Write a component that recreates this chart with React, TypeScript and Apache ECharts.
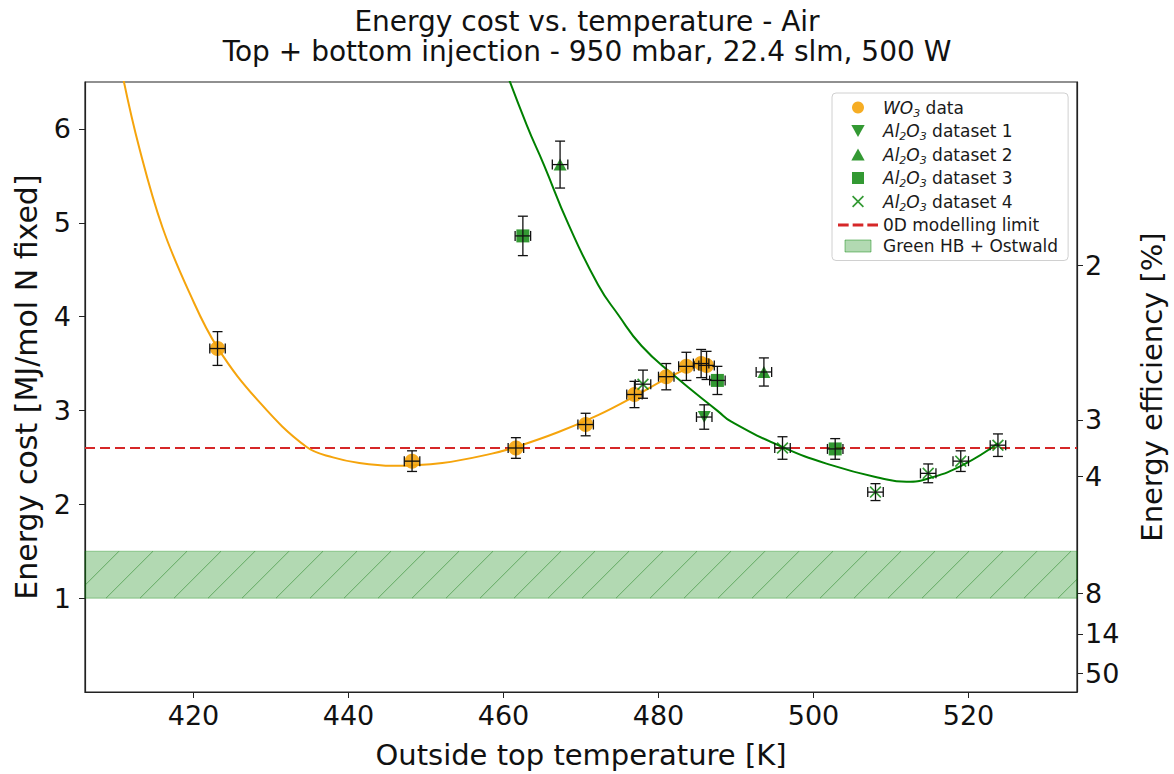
import React, { useEffect, useRef } from 'react';
import * as echarts from 'echarts';

const FONT = 'DejaVu Sans';

// WO3 data
const wo3X = [423.1, 448.2, 461.6, 470.6, 476.9, 481.0, 483.6, 485.5, 486.2];
const wo3Y = [3.66, 2.46, 2.60, 2.85, 3.17, 3.36, 3.47, 3.50, 3.48];
const wo3Xerr = [1.0, 1.0, 1.0, 1.0, 1.0, 1.0, 1.0, 1.0, 1.0];
const wo3Yerr = [0.18, 0.11, 0.11, 0.12, 0.14, 0.14, 0.15, 0.15, 0.15];

// Al2O3 datasets
const al1X = [485.9];
const al1Y = [2.93];
const al1Yerr = [0.13];

const al2X = [467.3, 493.6];
const al2Y = [5.62, 3.41];
const al2Yerr = [0.25, 0.15];

const al3X = [462.5, 487.6, 502.8];
const al3Y = [4.86, 3.32, 2.59];
const al3Yerr = [0.21, 0.15, 0.11];

const al4X = [478.0, 496.0, 508.0, 514.8, 519.0, 523.8];
const al4Y = [3.28, 2.60, 2.13, 2.33, 2.46, 2.63];
const al4Yerr = [0.15, 0.12, 0.09, 0.10, 0.11, 0.12];

const alXerr = 1.0;

// fitted curves
const wo3FitX = [409.5, 410.9, 413.0, 416.0, 419.5, 423.1, 428.6, 434.6, 438.0, 441.4, 445.7, 452.1, 458.5, 461.6, 467.1, 472.2, 476.9, 481.0, 485.1, 486.5];
const wo3FitY = [7.2, 6.55, 5.8, 4.95, 4.25, 3.67, 3.08, 2.61, 2.5, 2.44, 2.41, 2.44, 2.54, 2.61, 2.77, 2.95, 3.15, 3.34, 3.5, 3.55];

const alFitX = [459.5, 463.0, 465.2, 468.4, 472.2, 474.8, 477.8, 481.9, 487.7, 489.4, 496.0, 502.2, 508.6, 512.0, 515.0, 519.3, 523.8];
const alFitY = [6.8, 6.04, 5.62, 4.98, 4.34, 4.02, 3.69, 3.38, 2.99, 2.88, 2.61, 2.42, 2.28, 2.24, 2.28, 2.42, 2.65];

// reference levels
const modellingLimit = 2.6;
const greenBand = [1.0, 1.5];

// axes
const X_MIN = 406;
const X_MAX = 534;
const Y_MIN = 0;
const Y_MAX = 6.5;
const xTicks = [420, 440, 460, 480, 500, 520];
const yTicks = [1, 2, 3, 4, 5, 6];
// secondary axis: efficiency tick labels and the energy cost where each sits
const effTicks = [2, 3, 4, 8, 14, 50];
const effTickCost = [4.55, 2.9, 2.3, 1.05, 0.62, 0.2];

const ORANGE = '#F5A40C';
const GREEN = '#008000';
const RED = '#D62728';

const X_PATH = 'path://M1,0L5,4L9,0L10,1L6,5L10,9L9,10L5,6L1,10L0,9L4,5L0,1Z';
const DOWN_TRI = 'path://M0,0L10,0L5,9Z';
const UP_TRI = 'path://M5,0L10,9L0,9Z';
const SQUARE = 'path://M0,0L10,0L10,10L0,10Z';
const DASH_ICON = 'path://M0,0h8v2.4h-8zM11,0h8v2.4h-8zM22,0h8v2.4h-8z';
const BAND_ICON = 'path://M0,0h26v12h-26z';

const zip = (xs: number[], ys: number[]) => xs.map((x, i) => [x, ys[i]]);

export default function App() {
  const ref = useRef<HTMLDivElement>(null);

  useEffect(() => {
    const chart = echarts.init(ref.current!, null, { renderer: 'svg' });

    const errData: number[][] = [];
    wo3X.forEach((x, i) => errData.push([x, wo3Y[i], wo3Xerr[i], wo3Yerr[i]]));
    al1X.forEach((x, i) => errData.push([x, al1Y[i], alXerr, al1Yerr[i]]));
    al2X.forEach((x, i) => errData.push([x, al2Y[i], alXerr, al2Yerr[i]]));
    al3X.forEach((x, i) => errData.push([x, al3Y[i], alXerr, al3Yerr[i]]));
    al4X.forEach((x, i) => errData.push([x, al4Y[i], alXerr, al4Yerr[i]]));

    const rich = {
      n: { fontFamily: FONT, fontSize: 17, color: '#1a1a1a', lineHeight: 22 },
      i: { fontFamily: FONT, fontSize: 17, fontStyle: 'italic', color: '#1a1a1a', lineHeight: 22 },
      s: { fontFamily: FONT, fontSize: 11, fontStyle: 'italic', color: '#1a1a1a', lineHeight: 13, verticalAlign: 'bottom' },
    };

    const legendFormat = (name: string) => {
      if (name === 'WO3 data') return '{i|WO}{s|3}{n| data}';
      const m = name.match(/^Al2O3 (.*)$/);
      if (m) return '{i|Al}{s|2}{i|O}{s|3}{n| ' + m[1] + '}';
      return '{n|' + name + '}';
    };

    const option: any = {
      animation: false,
      backgroundColor: '#fff',
      title: {
        text: 'Energy cost vs. temperature - Air\nTop + bottom injection - 950 mbar, 22.4 slm, 500 W',
        left: 'center',
        top: 1,
        textStyle: { fontFamily: FONT, fontSize: 28, fontWeight: 'normal', color: '#111', lineHeight: 30 },
      },
      grid: { left: 85, right: 94, top: 82, bottom: 77, show: true, borderColor: '#222', borderWidth: 1.2, backgroundColor: 'transparent' },
      legend: {
        orient: 'vertical',
        left: 832,
        top: 93,
        backgroundColor: '#fff',
        borderColor: '#d0d0d0',
        borderWidth: 1,
        borderRadius: 4,
        padding: [6, 10, 6, 6],
        itemGap: 4,
        itemWidth: 40,
        itemHeight: 12,
        formatter: legendFormat,
        textStyle: { rich },
        data: [
          { name: 'WO3 data', icon: 'circle', itemStyle: { color: ORANGE } },
          { name: 'Al2O3 dataset 1', icon: DOWN_TRI, itemStyle: { color: GREEN } },
          { name: 'Al2O3 dataset 2', icon: UP_TRI, itemStyle: { color: GREEN } },
          { name: 'Al2O3 dataset 3', icon: SQUARE, itemStyle: { color: GREEN } },
          { name: 'Al2O3 dataset 4', icon: X_PATH, itemStyle: { color: GREEN } },
          { name: '0D modelling limit', icon: DASH_ICON, itemStyle: { color: RED } },
          { name: 'Green HB + Ostwald', icon: BAND_ICON, itemStyle: { color: 'rgba(0,128,0,0.3)', borderColor: 'rgba(0,128,0,0.45)', borderWidth: 1 } },
        ],
      },
      xAxis: {
        type: 'value',
        min: X_MIN,
        max: X_MAX,
        name: 'Outside top temperature [K]',
        nameLocation: 'middle',
        nameGap: 48,
        nameTextStyle: { fontFamily: FONT, fontSize: 29, color: '#111' },
        axisLine: { show: true, lineStyle: { color: '#222', width: 1.2 } },
        axisTick: { show: true, inside: false, length: 6, customValues: xTicks, lineStyle: { color: '#222' } },
        axisLabel: { customValues: xTicks, fontFamily: FONT, fontSize: 27, color: '#111', margin: 10 },
        splitLine: { show: false },
      },
      yAxis: [
        {
          type: 'value',
          min: Y_MIN,
          max: Y_MAX,
          position: 'left',
          name: 'Energy cost [MJ/mol N fixed]',
          nameLocation: 'middle',
          nameGap: 44,
          nameRotate: 90,
          nameTextStyle: { fontFamily: FONT, fontSize: 30, color: '#111' },
          axisLine: { show: true, lineStyle: { color: '#222', width: 1.2 } },
          axisTick: { show: true, length: 6, customValues: yTicks, lineStyle: { color: '#222' } },
          axisLabel: { customValues: yTicks, fontFamily: FONT, fontSize: 27, color: '#111', margin: 14 },
          splitLine: { show: false },
        },
        {
          type: 'value',
          min: Y_MIN,
          max: Y_MAX,
          position: 'right',
          name: 'Energy efficiency [%]',
          nameLocation: 'middle',
          nameGap: 60,
          nameRotate: 90,
          nameTextStyle: { fontFamily: FONT, fontSize: 29, color: '#111' },
          axisLine: { show: true, lineStyle: { color: '#222', width: 1.2 } },
          axisTick: { show: true, length: 6, customValues: effTickCost, lineStyle: { color: '#222' } },
          axisLabel: {
            customValues: effTickCost,
            fontFamily: FONT,
            fontSize: 27,
            color: '#111',
            margin: 8,
            formatter: (v: number) => {
              let best = 0;
              effTickCost.forEach((p, i) => {
                if (Math.abs(p - v) < Math.abs(effTickCost[best] - v)) best = i;
              });
              return String(effTicks[best]);
            },
          },
          splitLine: { show: false },
        },
      ],
      series: [
        {
          name: 'Green HB + Ostwald',
          type: 'custom',
          z: 1,
          silent: true,
          data: [greenBand],
          encode: { x: -1, y: [0, 1] },
          renderItem: (params: any, api: any) => {
            const lo = api.value(0);
            const hi = api.value(1);
            const cs = params.coordSys;
            const yTop = api.coord([X_MIN, hi])[1];
            const yBot = api.coord([X_MIN, lo])[1];
            const h = yBot - yTop;
            const left = cs.x;
            const right = cs.x + cs.width;
            const children: any[] = [
              { type: 'rect', shape: { x: left, y: yTop, width: cs.width, height: h }, style: { fill: 'rgba(0,128,0,0.3)', stroke: 'rgba(0,128,0,0.35)', lineWidth: 1 } },
            ];
            for (let x0 = left - h; x0 < right; x0 += 34) {
              let x1 = x0, y1 = yBot, x2 = x0 + h, y2 = yTop;
              if (x1 < left) { y1 = yBot - (left - x1); x1 = left; }
              if (x2 > right) { y2 = yBot - (right - x0); x2 = right; }
              children.push({ type: 'line', shape: { x1, y1, x2, y2 }, style: { stroke: 'rgba(0,110,0,0.45)', lineWidth: 1 } });
            }
            return { type: 'group', children };
          },
        },
        {
          name: '0D modelling limit',
          type: 'line',
          z: 3,
          symbol: 'none',
          data: [[X_MIN, modellingLimit], [X_MAX, modellingLimit]],
          lineStyle: { color: RED, width: 2.2, type: [10, 5] },
          itemStyle: { color: RED },
        },
        {
          name: 'WO3 fit',
          type: 'line',
          z: 4,
          symbol: 'none',
          smooth: 0.4,
          clip: true,
          data: zip(wo3FitX, wo3FitY),
          lineStyle: { color: ORANGE, width: 2 },
        },
        {
          name: 'Al2O3 fit',
          type: 'line',
          z: 4,
          symbol: 'none',
          smooth: 0.5,
          clip: true,
          data: zip(alFitX, alFitY),
          lineStyle: { color: GREEN, width: 2 },
        },
        {
          name: 'WO3 data',
          type: 'scatter',
          z: 5,
          symbol: 'circle',
          symbolSize: 15,
          data: zip(wo3X, wo3Y),
          itemStyle: { color: ORANGE, opacity: 0.9 },
        },
        {
          name: 'Al2O3 dataset 1',
          type: 'scatter',
          z: 5,
          symbol: DOWN_TRI,
          symbolSize: [13, 12],
          data: zip(al1X, al1Y),
          itemStyle: { color: GREEN },
        },
        {
          name: 'Al2O3 dataset 2',
          type: 'scatter',
          z: 5,
          symbol: UP_TRI,
          symbolSize: [13, 12],
          data: zip(al2X, al2Y),
          itemStyle: { color: GREEN },
        },
        {
          name: 'Al2O3 dataset 3',
          type: 'scatter',
          z: 5,
          symbol: SQUARE,
          symbolSize: 13,
          data: zip(al3X, al3Y),
          itemStyle: { color: GREEN },
        },
        {
          name: 'Al2O3 dataset 4',
          type: 'scatter',
          z: 5,
          symbol: X_PATH,
          symbolSize: 12,
          data: zip(al4X, al4Y),
          itemStyle: { color: GREEN },
        },
        {
          name: 'error bars',
          type: 'custom',
          z: 6,
          silent: true,
          data: errData,
          encode: { x: 0, y: 1 },
          renderItem: (params: any, api: any) => {
            const x = api.value(0);
            const y = api.value(1);
            const xe = api.value(2);
            const ye = api.value(3);
            const t = api.coord([x, y + ye]);
            const b = api.coord([x, y - ye]);
            const l = api.coord([x - xe, y]);
            const r = api.coord([x + xe, y]);
            const cap = 5;
            const st = { stroke: '#111', lineWidth: 1.3 };
            return {
              type: 'group',
              children: [
                { type: 'line', shape: { x1: t[0], y1: t[1], x2: b[0], y2: b[1] }, style: st },
                { type: 'line', shape: { x1: t[0] - cap, y1: t[1], x2: t[0] + cap, y2: t[1] }, style: st },
                { type: 'line', shape: { x1: b[0] - cap, y1: b[1], x2: b[0] + cap, y2: b[1] }, style: st },
                { type: 'line', shape: { x1: l[0], y1: l[1], x2: r[0], y2: r[1] }, style: st },
                { type: 'line', shape: { x1: l[0], y1: l[1] - cap, x2: l[0], y2: l[1] + cap }, style: st },
                { type: 'line', shape: { x1: r[0], y1: r[1] - cap, x2: r[0], y2: r[1] + cap }, style: st },
              ],
            };
          },
        },
      ],
    };

    chart.setOption(option);
    return () => chart.dispose();
  }, []);

  return (
    <div
      ref={ref}
      style={{ position: 'fixed', left: 0, top: 0, width: 1174, height: 774, background: '#fff' }}
    />
  );
}
